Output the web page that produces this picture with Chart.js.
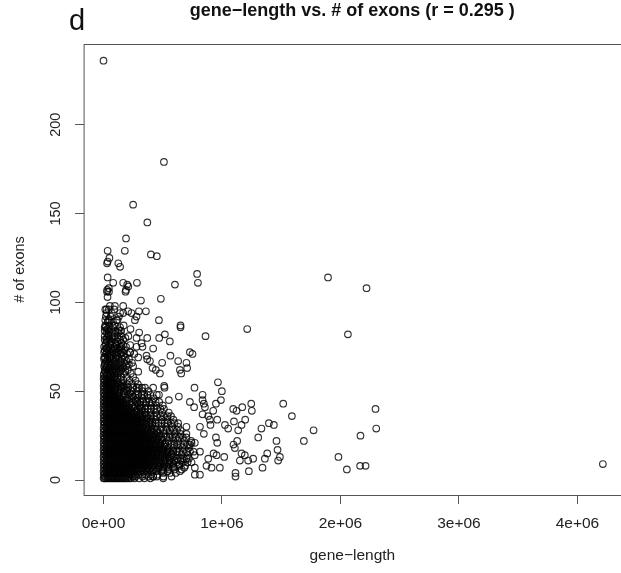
<!DOCTYPE html>
<html><head><meta charset="utf-8">
<style>
html,body{margin:0;padding:0;background:#fff;width:621px;height:573px;overflow:hidden}
#wrap{position:relative;width:621px;height:573px;filter:blur(0.4px)}
canvas{display:block}
#panel{position:absolute;left:69px;top:3px;font:29px "Liberation Sans",Arial,sans-serif;color:#111;line-height:34px}
</style>
<script src="https://cdn.jsdelivr.net/npm/chart.js@4"></script>
</head><body>
<div id="wrap"><div id="panel">d</div><canvas id="c" width="621" height="573"></canvas></div>
<script>
const chartTitle = "gene\u2212length vs. # of exons (r = 0.295 )";
const xTitle = "gene\u2212length";
const yTitle = "# of exons";
const xTickValues = [0,1e6,2e6,3e6,4e6];
const xTickLabels = ["0e+00","1e+06","2e+06","3e+06","4e+06"];
const yTickValues = [0,50,100,150,200];
// Dense cloud, estimated: [exon count, gene lengths in thousands]
const cloudRows = [
[1,[1,20,45,70,95,118,144,170,200,232,262,300,345,395]],
[1,[8,33,58,82,107,131,157,185,215]],
[2,[10,34,60,84,110,132,158,186,216,248,420,505]],
[3,[2,26,52,78,103,130,156,183,210,236,265,292,325,360,402,455]],
[4,[12,38,64,90,116,142,168,196,222,250,500,560,610]],
[5,[1,24,50,75,100,127,152,178,206,232,258,286,312,340,372,408,445,490,540]],
[6,[14,40,66,92,118,144,170,196,222,248,274,300,328,356,386,420,460]],
[7,[3,28,54,80,105,130,157,184,210,236,262,290,316,344,372,400,432,468,505,548,590]],
[8,[12,38,65,91,117,143,169,195,221,247,273,301,327,355,640,690]],
[9,[1,25,51,77,102,128,154,180,207,233,259,286,312,338,366,392,420,450,482,515,552,590,640]],
[10,[14,40,66,92,118,144,170,196,222,248,274,300,326,352,380,408,438,470,505]],
[11,[2,27,53,79,104,131,156,182,209,235,261,288,314,340,368,394,422,452,484,518,556,600,650]],
[12,[13,39,65,91,117,143,169,195,221,247,273,299,325,353,381,410,445,480,620,680,720]],
[13,[1,26,52,78,103,129,155,181,208,234,260,287,313,339,366,393,421,450,482,514,550,590]],
[14,[14,40,66,92,118,144,170,196,222,248,274,300,326,352,378,405,435,465,500]],
[15,[3,28,54,80,106,131,157,184,210,236,262,289,315,341,368,394,420,448,478,510,545,575]],
[16,[12,38,64,90,116,142,168,194,220,246,272,298,324,350,378,410,450,590,640,700,760]],
[17,[1,25,51,77,102,128,154,180,206,232,259,285,311,337,364,390,416,444,474,505,540]],
[18,[14,40,66,92,118,144,170,196,222,248,274,300,326,352,378,405,435,470]],
[19,[2,27,53,79,104,130,156,182,208,234,260,287,313,339,365,391,418,446,476,510,535]],
[20,[13,39,65,91,117,143,169,195,221,247,273,299,325,351,380,410,440,570,620,680,730]],
[21,[1,26,52,78,103,129,155,181,207,233,259,285,311,338,364,390,417,445,478,520]],
[22,[14,40,66,92,118,144,170,196,222,248,274,300,326,352,380,405,430]],
[23,[3,28,54,80,105,131,157,183,209,235,261,288,314,340,366,392,420,452,490]],
[24,[12,38,64,90,116,142,168,194,220,246,272,298,324,350,380,410,530,580,640,700]],
[25,[1,25,51,77,103,128,154,180,206,232,258,284,310,336,362,390,425,470]],
[26,[14,40,66,92,118,144,170,196,222,248,274,300,326,358,390]],
[27,[2,27,53,79,104,130,156,182,208,234,260,286,312,338,366,405,450]],
[28,[13,39,65,91,117,143,169,195,221,247,273,299,325,347,370,480,530,590,650]],
[29,[1,26,52,78,103,129,155,181,207,233,259,285,311,340,378,425]],
[30,[14,40,66,92,118,144,170,196,222,248,274,300,330,360]],
[31,[3,28,54,80,105,131,157,183,209,235,261,287,316,360,410]],
[32,[12,38,64,90,116,142,168,194,220,246,272,298,320,340,440,490,540,600]],
[33,[1,25,51,77,103,128,154,180,206,232,258,284,312,350,392]],
[34,[14,40,66,92,118,144,170,196,222,248,274,298,320]],
[35,[2,27,53,79,104,130,156,182,208,234,260,288,328,372]],
[36,[13,39,65,91,117,143,169,195,221,247,273,300,400,450,510,570]],
[37,[1,26,52,78,103,129,155,181,207,233,262,305,350]],
[38,[14,40,66,92,118,144,170,196,222,248,280]],
[39,[3,28,54,80,105,131,157,183,209,236,278,325]],
[40,[12,38,64,90,116,142,168,194,220,260,350,400,450,510]],
[41,[1,25,51,77,103,128,154,180,208,250,305]],
[42,[14,40,66,92,118,144,170,196,240]],
[43,[2,27,53,79,104,130,156,184,222,290]],
[44,[13,39,65,91,117,143,169,220,310,360,410,470]],
[45,[1,26,52,78,103,129,155,190,270]],
[46,[14,40,66,92,118,144,200]],
[47,[3,28,54,80,105,131,165,250]],
[48,[12,38,64,90,116,180,270,320,370]],
[49,[1,25,51,77,103,130,175,225]],
[50,[14,40,66,92,118,170]],
[51,[2,27,53,79,104,140,190]],
[52,[13,39,65,91,150,210,250,300,350]],
[53,[1,26,52,78,105,145,170]],
[54,[14,40,66,92,130]],
[55,[3,28,54,82,118,150]],
[56,[12,38,64,110,170,220,270]],
[57,[1,25,52,88,120]],
[58,[14,40,68,90]],
[59,[2,30,62,100]],
[60,[5,30,60,90,125,170,230]],
[62,[10,40,75,110,150,205]],
[64,[5,25,55,95,140,190,250]],
[66,[15,45,80,130,175,240]],
[68,[5,35,70,105,155,215]],
[71,[20,60,100,145,200,260]],
[73,[10,45,85,130,175]],
[76,[15,55,110,165,225]],
[78,[30,70,120]],
[81,[10,45,90,150,210]],
[83,[25,70,125]],
[87,[15,50,95,170]],
[89,[35,80]],
[92,[20,60,130]]
];
// Mottled edge of the cloud, estimated the same way
const fringeRows = [
[2,[270,330,380,450]],
[6,[500,550,600,660]],
[8,[385,420,470,530,590]],
[10,[540,580,620,670,710]],
[12,[520,560,650,700]],
[14,[540,580,620,660,710,770]],
[16,[490,530,560,615,670,730]],
[18,[505,545,590,630,670,720]],
[20,[480,520,600,650,710]],
[22,[465,500,550,590,630,680,740]],
[24,[450,490,560,610,670]],
[26,[430,470,510,560,600,650,700]],
[28,[410,450,505,560,620]],
[30,[400,440,490,530,575,630]],
[32,[380,415,465,515,570,630]],
[34,[360,400,440,490,540,590]],
[36,[330,365,425,480,540]],
[38,[310,350,395,440,495,550]],
[40,[290,325,375,425,480]],
[42,[270,315,355,400,445,500]],
[44,[250,285,335,385,440]],
[46,[235,285,330,375,425]],
[48,[210,240,295,345,395,450]],
[50,[200,240,285,330,380]],
[52,[175,280,325]],
[54,[160,200,240,290]],
[58,[115,150,195,250]],
[61,[15,45,75,105,140,185]],
[63,[20,50,85,125,165]],
[65,[10,35,65,110,155,215]],
[67,[25,60,95,145,195]],
[69,[15,50,85,125,180]],
[70,[35,70,115,165]],
[72,[5,30,75,120,160,225]],
[74,[25,65,110,150]],
[75,[5,40,90,135,190]],
[77,[20,60,100,150]],
[79,[10,50,95,140]],
[80,[30,75,120,185]],
[84,[10,45,100,150]],
[85,[30,65,125]],
[86,[10,80,140]],
[90,[15,50,110]],
[94,[25,70,140]],
[96,[15,45,90]]
];
// Individually legible points: gene length in thousands
const sparseLengths = [0,510,250,370,400,450,190,180,35,30,50,35,140,125,790,1895,2220,2063,1213,200,190,35,45,30,650,4215,82,166,282,209,186,603,797,31,46,34,484,316,54,25,96,166,166,208,236,279,265,299,358,468,40,118,20,40,139,228,301,650,518,470,369,279,861,560,166,40,25,321,279,419,329,729,751,25,96,152,223,363,565,6,54,293,369,392,630,700,495,645,706,442,414,656,476,293,966,999,768,512,515,419,836,836,636,468,552,991,949,847,856,729,765,926,884,960,836,898,903,1095,1123,1171,1247,1252,1517,1590,1025,1052,1101,1165,1196,1137,1333,1396,1438,1306,1460,1469,1382,1362,1489,1474,1342,1263,1221,1151,1193,1165,1109,1097,1128,1227,1114,1114,1019,954,982,912,884,929,949,960,847,814,700,743,771,814,771,814,771,681,645,574,504,419,743,869,2296,2302,2169,1773,1691,1983,2054,2166,2212];
const sparseExons = [236,179,155,145,127,126,136,129,129,122,125,123,120,122,116,114,108,82,85,110,107,114,108,106,87,9,111,111,111,109,106,110,111,107,106,103,102,101,98,96,98,98,94,95,94,92,90,95,95,90,90,90,86,85,84,85,83,86,82,80,80,80,81,78,79,82,79,77,75,74,75,72,71,74,74,75,72,70,70,69,69,69,68,67,67,66,66,62,63,62,63,60,60,61,55,50,52,53,52,52,48,45,47,48,45,45,43,43,41,44,41,39,36,34,37,34,31,40,39,41,43,39,43,36,31,29,33,31,34,28,29,32,31,24,22,17,15,12,13,11,7,12,11,11,14,15,18,20,22,5,4,2,13,14,7,7,12,15,24,21,26,30,30,21,21,16,7,3,3,7,5,2,1,2,10,8,40,29,25,28,22,13,6,8,8];

const points = [];
cloudRows.concat(fringeRows).forEach(([e, lens]) => lens.forEach(k => points.push({x:k*1000, y:e})));
sparseLengths.forEach((k,i) => points.push({x:k*1000, y:sparseExons[i]}));

const frame = {
  id:'frame',
  afterDatasetsDraw(ch){
    const a = ch.chartArea, g = ch.ctx;
    g.save(); g.strokeStyle='#555'; g.lineWidth=1;
    g.strokeRect(a.left+.5,a.top+.5,a.right-a.left,a.bottom-a.top);
    g.restore();
  }
};
const textColor = '#222';
const family = '"Liberation Sans",Arial,sans-serif';
new Chart(document.getElementById('c'),{
  type:'scatter',
  data:{datasets:[{data:points, pointRadius:3.3, pointHoverRadius:3.3, pointBorderWidth:1.15,
    borderColor:'rgba(0,0,0,.8)', pointBackgroundColor:'rgba(0,0,0,0)', backgroundColor:'rgba(0,0,0,0)'}]},
  plugins:[frame],
  options:{
    responsive:false, animation:false, events:[],
    layout:{autoPadding:false,padding:{top:0,right:0,bottom:0,left:0}},
    plugins:{
      legend:{display:false}, tooltip:{enabled:false},
      title:{display:true,text:chartTitle,fullSize:false,color:'#111',
        font:{family,size:18,weight:'bold'},padding:{top:0,bottom:22.4}}
    },
    scales:{
      x:{type:'linear',min:-168000,max:4368000,
        afterBuildTicks(s){s.ticks=xTickValues.map(v=>({value:v}))},
        afterFit(s){s.height=78},
        grid:{drawOnChartArea:false,tickLength:9,tickColor:'#555',color:'#555',drawTicks:true},
        border:{display:false},
        ticks:{color:textColor,font:{family,size:15.5},padding:10,maxRotation:0,autoSkip:false,
          callback:(v)=>xTickLabels[xTickValues.indexOf(v)]},
        title:{display:true,text:xTitle,color:textColor,font:{family,size:15.5},padding:{top:0,bottom:7.7}}
      },
      y:{type:'linear',min:-8.4,max:245.4,
        afterBuildTicks(s){s.ticks=yTickValues.map(v=>({value:v}))},
        afterFit(s){s.width=83.6},
        grid:{drawOnChartArea:false,tickLength:8.5,tickColor:'#555',color:'#555'},
        border:{display:false},
        ticks:{color:textColor,font:{family,size:14.5},padding:7,minRotation:90,maxRotation:90,crossAlign:'center',autoSkip:false},
        title:{display:true,text:yTitle,color:textColor,font:{family,size:14.4},padding:{top:11.4,bottom:0}}
      }
    }
  }
});
</script>
</body></html>
